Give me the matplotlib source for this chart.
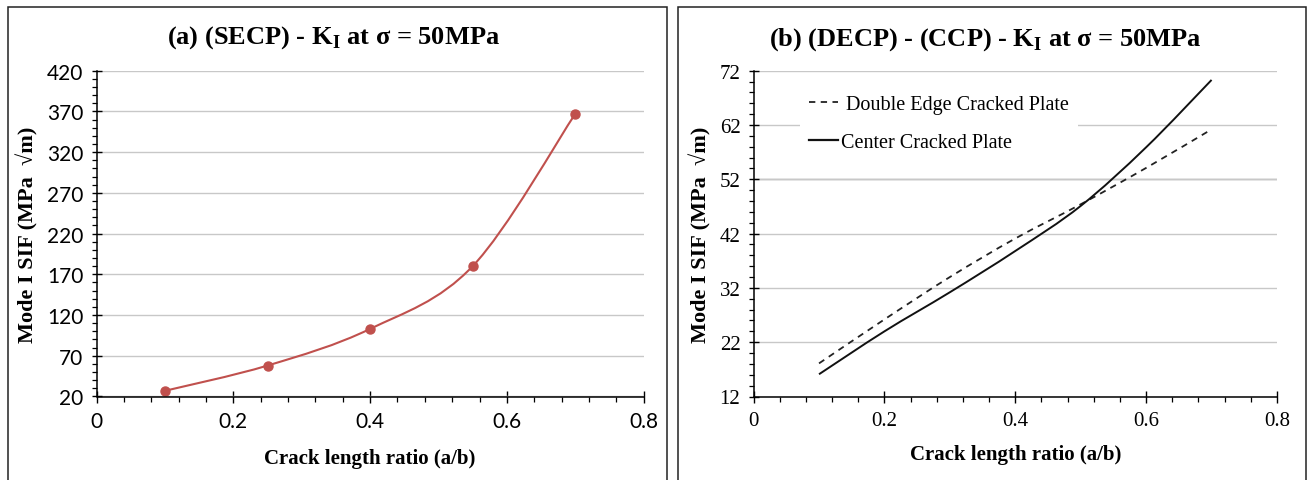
import numpy as np
import matplotlib
matplotlib.use("Agg")
import matplotlib.pyplot as plt
from matplotlib.path import Path
from matplotlib.patches import PathPatch, Rectangle
from matplotlib.lines import Line2D

plt.rcParams["mathtext.fontset"] = "custom"
plt.rcParams["mathtext.rm"] = "Liberation Serif"
plt.rcParams["mathtext.bf"] = "Liberation Serif:bold"

# ---- data ----
secp_ratio = [0.1, 0.25, 0.4, 0.55, 0.7]
secp_sif = [27.0, 58.0, 103.0, 180.0, 367.0]

ratio_b = [0.1, 0.2, 0.3, 0.4, 0.5, 0.6, 0.7]
decp_sif = [18.1, 26.2, 34.0, 41.1, 47.4, 54.1, 61.2]
ccp_sif = [16.1, 24.0, 31.2, 38.8, 47.1, 57.9, 70.3]

yticks_a = [20, 70, 120, 170, 220, 270, 320, 370, 420]
yticks_b = [12, 22, 32, 42, 52, 62, 72]
xticks = [0, 0.2, 0.4, 0.6, 0.8]

SERIF = ["Liberation Serif", "DejaVu Serif"]
W, H = 1309, 481


def smooth_path(x, y):
    # Excel-style smoothed line: cubic Bezier through the points
    x = np.asarray(x, float)
    y = np.asarray(y, float)
    pts = np.column_stack([x, y])
    n = len(pts)
    verts = [pts[0]]
    codes = [Path.MOVETO]
    for i in range(n - 1):
        p0 = pts[i - 1] if i > 0 else pts[i]
        p1, p2 = pts[i], pts[i + 1]
        p3 = pts[i + 2] if i + 2 < n else pts[i + 1]
        c1 = p1 + (p2 - p0) / 6.0
        c2 = p2 - (p3 - p1) / 6.0
        verts += [c1, c2, p2]
        codes += [Path.CURVE4] * 3
    return Path(verts, codes)


def style_axes(ax, yticks, tick_font, tick_size, minor_y):
    for s in ("top", "right"):
        ax.spines[s].set_visible(False)
    for s in ("left", "bottom"):
        ax.spines[s].set_linewidth(1.1)
        ax.spines[s].set_color("black")
    ax.set_xlim(0, 0.8)
    ax.set_ylim(yticks[0], yticks[-1])
    ax.set_xticks(xticks)
    ax.set_xticklabels(["0", "0.2", "0.4", "0.6", "0.8"])
    ax.set_yticks(yticks)
    ax.set_xticks(np.arange(0, 0.81, 0.04), minor=True)
    ax.set_yticks(np.arange(yticks[0], yticks[-1] + 0.01, minor_y), minor=True)
    ax.tick_params(which="major", direction="inout", length=7, width=1.0,
                   labelsize=tick_size, pad=6)
    ax.tick_params(axis="x", which="major", length=9)
    ax.tick_params(which="minor", direction="out", length=3.5, width=0.9)
    for lab in ax.get_xticklabels() + ax.get_yticklabels():
        lab.set_family(tick_font)
    ax.yaxis.grid(True, color="#c8c8c8", linewidth=1.0)
    ax.set_axisbelow(True)


fig = plt.figure(figsize=(W / 100, H / 100), dpi=100)

# panel frames
fig.patches.append(Rectangle((8 / W, -0.05), (667 - 8) / W, 1 - 8 / H + 0.05,
                             transform=fig.transFigure, fill=False,
                             edgecolor="#222222", linewidth=1.1))
fig.patches.append(Rectangle((678 / W, -0.05), (1306 - 678) / W, 1 - 8 / H + 0.05,
                             transform=fig.transFigure, fill=False,
                             edgecolor="#222222", linewidth=1.1))

bottom = 1 - 397.5 / H
height = (397.5 - 71.7) / H

# ---- panel (a) ----
ax1 = fig.add_axes([96.6 / W, bottom, (643.6 - 96.6) / W, height])
style_axes(ax1, yticks_a, ["Lato", "DejaVu Sans"], 15, 10)
ax1.add_patch(PathPatch(smooth_path(secp_ratio, secp_sif), fill=False,
                        edgecolor="#C0504D", linewidth=1.5))
ax1.plot(secp_ratio, secp_sif, linestyle="none", marker="o", markersize=6.5,
         color="#C0504D")
ax1.set_xlabel("Crack length ratio (a/b)", family=SERIF, fontweight="bold",
               fontsize=15, labelpad=12)
ax1.set_ylabel("Mode I SIF (MPa  √m)", family=SERIF, fontweight="bold",
               fontsize=16, labelpad=6)
fig.text(333 / W, 1 - 38 / H, r"(a) (SECP) - K$_\mathbf{I}$ at σ = 50MPa",
         family=SERIF, fontweight="bold", fontsize=19, ha="center", va="center")

# ---- panel (b) ----
ax2 = fig.add_axes([753.6 / W, bottom, (1277 - 753.6) / W, height])
style_axes(ax2, yticks_b, SERIF, 15, 2)
ax2.axhline(52, color="#9a9a9a", linewidth=1.0, zorder=0.5)
ax2.add_patch(PathPatch(smooth_path(ratio_b, decp_sif), fill=False,
                        edgecolor="#222222", linewidth=1.3,
                        linestyle=(0, (3.5, 3))))
ax2.add_patch(PathPatch(smooth_path(ratio_b, ccp_sif), fill=False,
                        edgecolor="#111111", linewidth=1.4))
handles = [
    Line2D([], [], color="#222222", linewidth=1.3, linestyle=(0, (3.5, 3))),
    Line2D([], [], color="#111111", linewidth=1.6),
]
leg = ax2.legend(handles, [" Double Edge Cracked Plate", "Center Cracked Plate"],
                 loc="upper left", bbox_to_anchor=(0.07, 0.985),
                 prop={"family": SERIF, "size": 14.5}, frameon=True,
                 fancybox=False, edgecolor="none", facecolor="white",
                 framealpha=1.0, handlelength=1.4, handletextpad=0.15,
                 labelspacing=0.95, borderpad=0.45)
ax2.set_xlabel("Crack length ratio (a/b)", family=SERIF, fontweight="bold",
               fontsize=15, labelpad=10)
ax2.set_ylabel("Mode I SIF (MPa  √m)", family=SERIF, fontweight="bold",
               fontsize=16, labelpad=6)
fig.text(985 / W, 1 - 40 / H, r"(b) (DECP) - (CCP) - K$_\mathbf{I}$ at σ = 50MPa",
         family=SERIF, fontweight="bold", fontsize=19, ha="center", va="center")

fig.savefig("out.png", dpi=100)
